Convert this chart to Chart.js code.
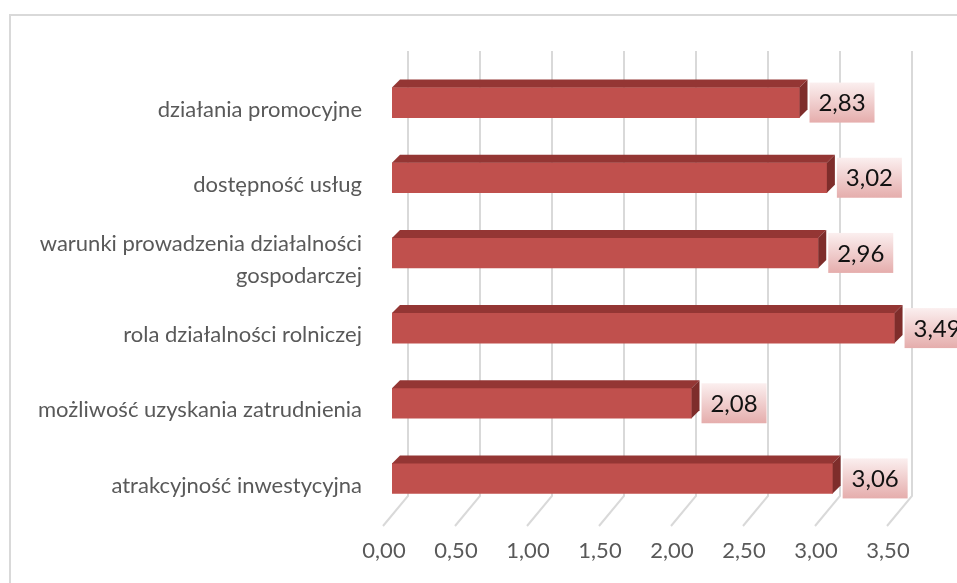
<!DOCTYPE html>
<html>
<head>
<meta charset="utf-8">
<script src="https://cdn.jsdelivr.net/npm/chart.js@4.4.0/dist/chart.umd.min.js"></script>
<style>
html,body{margin:0;padding:0;background:#fff;}
#wrap{width:957px;height:583px;position:relative;}
</style>
</head>
<body>
<div id="wrap"><canvas id="c" width="957" height="583"></canvas></div>
<script>
const categories = [
  "działania promocyjne",
  "dostępność usług",
  ["warunki prowadzenia działalności", "gospodarczej"],
  "rola działalności rolniczej",
  "możliwość uzyskania zatrudnienia",
  "atrakcyjność inwestycyjna"
];
const values = [2.83, 3.02, 2.96, 3.49, 2.08, 3.06];
const xTickValues = [0, 0.5, 1, 1.5, 2, 2.5, 3, 3.5];

const fmt = v => v.toFixed(2).replace('.', ',');
const FONT = "Lato, 'Open Sans', 'Liberation Sans', sans-serif";
const DEPTH = 8;

const framePlugin = {
  id: 'frame',
  beforeDraw(chart) {
    const ctx = chart.ctx;
    ctx.save();
    ctx.fillStyle = '#fff';
    ctx.fillRect(0, 0, chart.width, chart.height);
    ctx.strokeStyle = '#D9D9D9';
    ctx.lineWidth = 2;
    ctx.strokeRect(10, 15, chart.width + 20, chart.height + 20);
    ctx.restore();
  }
};

const gridPlugin = {
  id: 'grid3d',
  beforeDatasetsDraw(chart) {
    const ctx = chart.ctx;
    const xs = chart.scales.x;
    ctx.save();
    ctx.strokeStyle = '#D9D9D9';
    ctx.lineWidth = 2;
    xTickValues.forEach(v => {
      const x = xs.getPixelForValue(v);
      ctx.beginPath();
      ctx.moveTo(x + 16, 51);
      ctx.lineTo(x + 16, 496);
      ctx.lineTo(x - 9, 526);
      ctx.stroke();
    });
    ctx.restore();
  }
};

const bar3dPlugin = {
  id: 'bar3d',
  afterDatasetsDraw(chart) {
    const ctx = chart.ctx;
    const meta = chart.getDatasetMeta(0);
    ctx.save();
    meta.data.forEach((bar, i) => {
      const p = bar.getProps(['x', 'y', 'base', 'height'], true);
      const top = p.y - p.height / 2;
      const bottom = p.y + p.height / 2;
      const left = p.base, right = p.x;
      // top face
      ctx.fillStyle = '#943634';
      ctx.beginPath();
      ctx.moveTo(left, top);
      ctx.lineTo(right, top);
      ctx.lineTo(right + DEPTH, top - DEPTH);
      ctx.lineTo(left + DEPTH, top - DEPTH);
      ctx.closePath();
      ctx.fill();
      // side face
      ctx.fillStyle = '#7E2D2B';
      ctx.beginPath();
      ctx.moveTo(right, top);
      ctx.lineTo(right + DEPTH, top - DEPTH);
      ctx.lineTo(right + DEPTH, bottom - DEPTH);
      ctx.lineTo(right, bottom);
      ctx.closePath();
      ctx.fill();
      // data label box
      const bx = right + DEPTH + 2, bw = 65, bh = 40;
      const by = p.y - bh / 2;
      const g = ctx.createLinearGradient(0, by, 0, by + bh);
      g.addColorStop(0, '#FBEFEF');
      g.addColorStop(1, '#E5ADAC');
      ctx.fillStyle = g;
      ctx.fillRect(bx, by, bw, bh);
      ctx.fillStyle = '#111';
      ctx.font = "24px " + FONT;
      ctx.textAlign = 'center';
      ctx.textBaseline = 'middle';
      ctx.fillText(fmt(values[i]), bx + bw / 2, p.y + 1);
    });
    ctx.restore();
  }
};

new Chart(document.getElementById('c'), {
  type: 'bar',
  data: {
    labels: categories,
    datasets: [{
      data: values,
      backgroundColor: '#C0504D',
      borderWidth: 0,
      barThickness: 30
    }]
  },
  options: {
    indexAxis: 'y',
    responsive: false,
    animation: false,
    events: [],
    layout: { padding: { top: 65, right: 61, left: 0, bottom: 0 } },
    plugins: { legend: { display: false }, tooltip: { enabled: false } },
    scales: {
      x: {
        min: 0, max: 3.5,
        afterBuildTicks(scale) { scale.ticks = xTickValues.map(v => ({ value: v })); },
        afterFit(scale) { scale.height = 67; },
        grid: { display: false, drawTicks: false },
        border: { display: false },
        ticks: {
          callback: v => fmt(v),
          color: '#595959',
          font: { family: FONT, size: 22 },
          padding: 22,
          labelOffset: -8,
          maxRotation: 0,
          autoSkip: false
        }
      },
      y: {
        afterFit(scale) { scale.width = 392; },
        grid: { display: false, drawTicks: false },
        border: { display: false },
        ticks: {
          color: '#595959',
          font: { family: FONT, size: 22, lineHeight: 1.45 },
          padding: 30,
          labelOffset: 7
        }
      }
    }
  },
  plugins: [framePlugin, gridPlugin, bar3dPlugin]
});
</script>
</body>
</html>
